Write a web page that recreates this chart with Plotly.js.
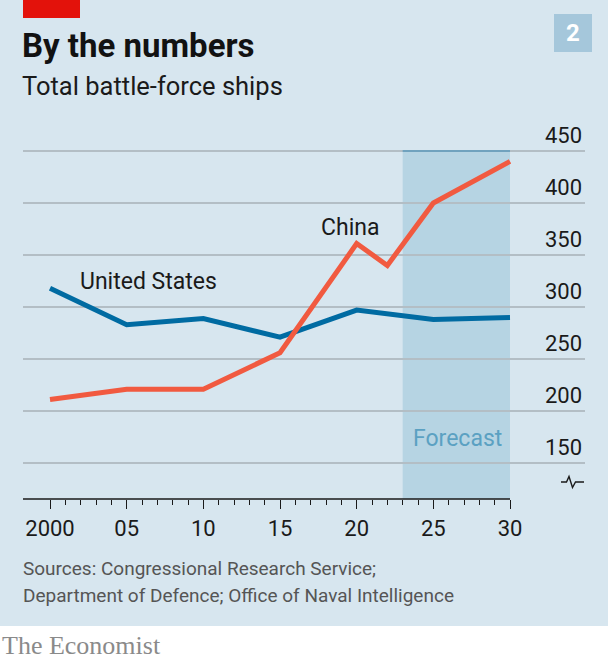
<!DOCTYPE html>
<html><head><meta charset="utf-8">
<script src="https://cdn.plot.ly/plotly-3.0.1.min.js"></script>
<style>html,body{margin:0;padding:0;background:#fff}#c{width:608px;height:662px}</style>
</head><body><div id="c"></div>
<script>
const usYears = [2000, 2005, 2010, 2015, 2020, 2025, 2030];
const usShips = [318, 283, 289, 271, 297, 288, 290];
const chinaYears = [2000, 2005, 2010, 2015, 2020, 2022, 2025, 2030];
const chinaShips = [211, 221, 221, 256, 361, 340, 400, 440];
const xTickVals = [2000, 2005, 2010, 2015, 2020, 2025, 2030];
const xTickText = ["2000", "05", "10", "15", "20", "25", "30"];
const yTickVals = [150, 200, 250, 300, 350, 400, 450];
const forecastStart = 2023, forecastEnd = 2030;

const BG = '#d7e6ef';
const FONT = 'Roboto, "Open Sans", sans-serif';
const yMin = 115.4, yMax = 489.44;
const minorVals = [];
for (let y = 2001; y < 2030; y++) if (y % 5) minorVals.push(y);

const traces = [
  {x: usYears, y: usShips, mode: 'lines', line: {color: '#006ba2', width: 5}, hoverinfo: 'skip'},
  {x: chinaYears, y: chinaShips, mode: 'lines', line: {color: '#f15a40', width: 5}, hoverinfo: 'skip'}
];

const px = v => (v - 23) / 562;
const py = v => (499 - v) / 389;

const layout = {
  width: 608, height: 662,
  margin: {l: 23, r: 23, t: 110, b: 163},
  paper_bgcolor: BG, plot_bgcolor: BG,
  showlegend: false,
  font: {family: FONT, color: '#1a1a1a'},
  title: {text: '<b>By the numbers</b>', x: 22/608, xanchor: 'left', xref: 'container',
          y: 1 - 45/662, yanchor: 'middle', yref: 'container',
          font: {family: FONT, size: 33, color: '#121212'}},
  xaxis: {range: [1998.239, 2034.891], tickvals: xTickVals, ticktext: xTickText,
          ticks: 'outside', ticklen: 9, tickwidth: 1, tickcolor: '#1a1a1a',
          minor: {tickvals: minorVals, ticks: 'outside', ticklen: 5, tickwidth: 1, tickcolor: '#1a1a1a', showgrid: false},
          showgrid: false, zeroline: false, showline: false,
          tickfont: {family: FONT, size: 22, color: '#1a1a1a'}, ticklabelstandoff: 1, fixedrange: true},
  yaxis: {range: [yMin, yMax], side: 'right', tickvals: yTickVals, ticks: '',
          ticklabelposition: 'inside top', ticklabelstandoff: 0,
          showgrid: true, gridcolor: '#b3bec5', gridwidth: 1.3, zeroline: false, showline: false,
          tickfont: {family: FONT, size: 22, color: '#1a1a1a'}, fixedrange: true},
  shapes: [
    {type: 'rect', xref: 'x', yref: 'y', x0: forecastStart, x1: forecastEnd, y0: yMin, y1: 450,
     fillcolor: '#b6d4e3', line: {width: 0}, layer: 'below'},
    {type: 'line', xref: 'x', yref: 'y', x0: forecastStart, x1: forecastEnd, y0: 450, y1: 450,
     line: {color: '#5a98bb', width: 1.5}},
    {type: 'line', xref: 'x', yref: 'paper', x0: 1998.239, x1: 2030, y0: 0, y1: 0,
     line: {color: '#1a1a1a', width: 1.3}},
    {type: 'path', xref: 'paper', yref: 'paper',
     path: `M ${px(561)} ${py(482)} L ${px(566.5)} ${py(482)} L ${px(569)} ${py(476.5)} L ${px(572.5)} ${py(487.5)} L ${px(575.5)} ${py(482)} L ${px(584)} ${py(482)}`,
     line: {color: '#1a1a1a', width: 1.4}},
    {type: 'rect', xref: 'paper', yref: 'paper', x0: px(23), x1: px(80), y0: py(18), y1: py(0) + 0.01,
     fillcolor: '#e3120b', line: {width: 0}},
    {type: 'rect', xref: 'paper', yref: 'paper', x0: px(554), x1: px(592), y0: py(52), y1: py(14),
     fillcolor: '#a5c7db', line: {width: 0}},
    {type: 'rect', xref: 'paper', yref: 'paper', x0: px(-5), x1: px(615), y0: py(670), y1: py(626),
     fillcolor: '#ffffff', line: {width: 0}}
  ],
  annotations: [
    {text: 'Total battle-force ships', xref: 'paper', yref: 'paper', x: px(20), y: py(86),
     xanchor: 'left', yanchor: 'middle', showarrow: false, font: {family: FONT, size: 25.5, color: '#1a1a1a'}},
    {text: '<b>2</b>', xref: 'paper', yref: 'paper', x: px(573), y: py(33),
     xanchor: 'center', yanchor: 'middle', showarrow: false, font: {family: FONT, size: 24, color: '#ffffff'}},
    {text: 'United States', xref: 'x', yref: 'y', x: 2001.8, y: 325,
     xanchor: 'left', yanchor: 'middle', showarrow: false, font: {family: FONT, size: 23, color: '#1a1a1a'}},
    {text: 'China', xref: 'x', yref: 'y', x: 2017.55, y: 376,
     xanchor: 'left', yanchor: 'middle', showarrow: false, font: {family: FONT, size: 23, color: '#1a1a1a'}},
    {text: 'Forecast', xref: 'x', yref: 'y', x: 2026.55, y: 174,
     xanchor: 'center', yanchor: 'middle', showarrow: false, font: {family: FONT, size: 23, color: '#5ba1c2'}},
    {text: 'Sources: Congressional Research Service;', xref: 'paper', yref: 'paper', x: px(21), y: py(568),
     xanchor: 'left', yanchor: 'middle', showarrow: false, font: {family: FONT, size: 19, color: '#555555'}},
    {text: 'Department of Defence; Office of Naval Intelligence', xref: 'paper', yref: 'paper', x: px(21), y: py(595),
     xanchor: 'left', yanchor: 'middle', showarrow: false, font: {family: FONT, size: 19, color: '#555555'}},
    {text: 'The Economist', xref: 'paper', yref: 'paper', x: px(0), y: py(645),
     xanchor: 'left', yanchor: 'middle', showarrow: false,
     font: {family: '"Liberation Serif", "DejaVu Serif", serif', size: 26, color: '#8a8a8a'}}
  ]
};

Plotly.newPlot('c', traces, layout, {displayModeBar: false, staticPlot: true});
</script>
</body></html>
